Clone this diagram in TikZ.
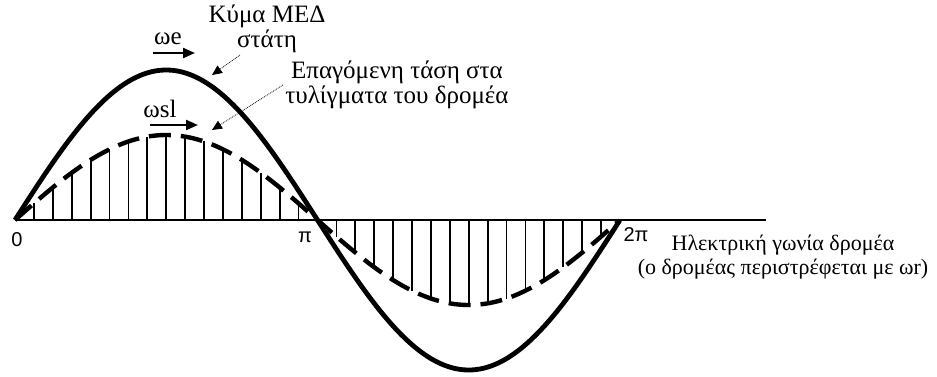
\documentclass[tikz,border=0pt]{standalone}
\usepackage{fontspec}
\setmainfont{Liberation Serif}
\newfontfamily\axisfont{Liberation Sans}
\usetikzlibrary{arrows.meta}

\tikzset{
  wave/.style={line width=4.8pt},
  induced/.style={line width=4.4pt,dash pattern=on 22pt off 10pt},
  hatch/.style={line width=1.8pt},
  pointer/.style={densely dotted,line width=0.8pt,-{Triangle[length=10pt,width=9pt]}},
  speed/.style={line width=2.2pt,-{Triangle[length=12pt,width=10pt]}},
  lbl/.style={font=\fontsize{25}{25}\selectfont,align=center,inner sep=0pt},
  tick/.style={font=\axisfont\fontsize{20}{20}\selectfont,inner sep=0pt}
}

\begin{document}
\begin{tikzpicture}[x=1pt,y=1pt]
\useasboundingbox (0,-156) rectangle (937,220);
% axis
\draw[line width=1.5pt] (15,0) -- (766,0);
% hatching under the rotor voltage
\foreach \k in {1,...,15,17,18,...,31}
  \draw[hatch] ({15+302.5*\k/16},0) -- ({15+302.5*\k/16},{85*sin(180*\k/16)});
% the two waves
\draw[induced] plot[domain=0:2,samples=120,smooth] ({15+302.5*\x},{85*sin(180*\x)});
\draw[wave] plot[domain=0:2,samples=120,smooth] ({15+302.5*\x},{150*sin(180*\x)});
% labels
\node[lbl] (stator) at (267,191) {Κύμα ΜΕΔ\\στάτη};
\node[lbl] (rotor) at (397,135) {Επαγόμενη τάση στα\\τυλίγματα του δρομέα};
\node[lbl] (we) at (168,181) {ωe};
\node[lbl] (wsl) at (160,111) {ωsl};
\node[tick] (zero) at (17,-20) {0};
\node[tick] (pi) at (305,-17) {π};
\node[tick] (twopi) at (636,-15) {2π};
\node[lbl,font=\fontsize{22}{24}\selectfont] (angle) at (783,-37)
  {Ηλεκτρική γωνία δρομέα\\(ο δρομέας περιστρέφεται με ωr)};
% pointers to the curves
\coordinate (statorfrom) at (240,165);
\coordinate (statortip) at (212,145);
\coordinate (rotorfrom) at (283,135);
\coordinate (rotortip) at (212,90);
\draw[pointer] (statorfrom) -- (statortip);
\draw[pointer] (rotorfrom) -- (rotortip);
% speed arrows
\draw[speed] ([xshift=-15pt,yshift=-14pt]we.center) -- ++(42,0);
\draw[speed] ([xshift=-10pt,yshift=-16pt]wsl.center) -- ++(48,0);
\end{tikzpicture}
\end{document}
